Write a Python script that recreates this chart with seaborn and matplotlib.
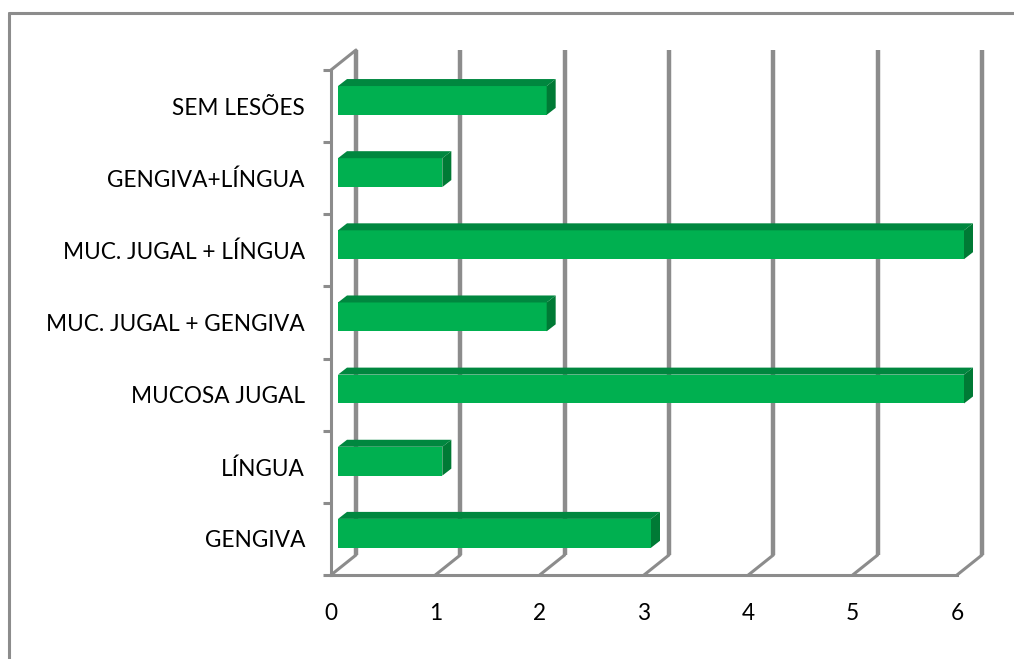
import matplotlib
matplotlib.use('Agg')
import matplotlib.pyplot as plt
import seaborn as sns
import pandas as pd
import numpy as np
from matplotlib.transforms import ScaledTranslation, IdentityTransform
from matplotlib.patches import Polygon
from matplotlib.lines import Line2D

categories = ["SEM LESÕES", "GENGIVA+LÍNGUA", "MUC. JUGAL + LÍNGUA",
              "MUC. JUGAL + GENGIVA", "MUCOSA JUGAL", "LÍNGUA", "GENGIVA"]
values = [2, 1, 6, 2, 6, 1, 3]
x_ticks = [0, 1, 2, 3, 4, 5, 6]

sns.set_theme(style='white')
plt.rcParams['font.family'] = ['Lato', 'DejaVu Sans']

W, H = 1014, 659
DPI = 100
GRAY = '#8C8C8C'
FRONT = '#00B050'
TOP = '#00873F'
SIDE = '#007A35'
FS = 16.3

fig = plt.figure(figsize=(W / DPI, H / DPI), dpi=DPI)
fig.patch.set_facecolor('white')
ax = fig.add_axes([331 / W, 1 - 575 / H, (957 - 331) / W, (575 - 70) / H])
ax.set_facecolor('none')

df = pd.DataFrame({'cat': categories, 'val': values})
sns.barplot(data=df, x='val', y='cat', orient='h', color=FRONT, width=0.4,
            saturation=1, ax=ax, zorder=3, edgecolor='none')
ax.set_xlim(0, 6)
ax.set_ylim(6.5, -0.5)
ax.set_xlabel('')
ax.set_ylabel('')

def off(dx, dy):
    return ax.transData + ScaledTranslation(dx / DPI, dy / DPI, fig.dpi_scale_trans)

# depth of the 3D box (px)
DX, DY = 25, 20
# bar front offset and bar depth (px)
BX, BY = 7, 5.6
BDX, BDY = 9, 7

# back wall gridlines
for x in x_ticks:
    ax.plot([x, x], [6.5, -0.5], transform=off(DX, DY), color=GRAY, lw=3.2,
            clip_on=False, zorder=1, solid_capstyle='butt')

# floor diagonals
for x in x_ticks:
    p = ax.transData.transform((x, 6.5))
    ax.add_line(Line2D([p[0], p[0] + DX], [p[1], p[1] + DY], transform=IdentityTransform(),
                       color=GRAY, lw=2.2, clip_on=False, zorder=1))
# left wall top diagonal
p = ax.transData.transform((0, -0.5))
ax.add_line(Line2D([p[0], p[0] + DX], [p[1], p[1] + DY], transform=IdentityTransform(),
                   color=GRAY, lw=2.2, clip_on=False, zorder=1))

# bars: shift front face and add top / side faces
for patch in list(ax.patches):
    x0, y0 = patch.get_x(), patch.get_y()
    w, h = patch.get_width(), patch.get_height()
    patch.set_transform(off(BX, BY))
    patch.set_clip_on(False)
    a = ax.transData.transform((x0, y0))
    b = ax.transData.transform((x0 + w, y0 + h))
    L, R = min(a[0], b[0]) + BX, max(a[0], b[0]) + BX
    T, B = max(a[1], b[1]) + BY, min(a[1], b[1]) + BY
    top = Polygon([(L, T), (R, T), (R + BDX, T + BDY), (L + BDX, T + BDY)], closed=True,
                  transform=IdentityTransform(), facecolor=TOP, edgecolor='none',
                  clip_on=False, zorder=3)
    side = Polygon([(R, B), (R, T), (R + BDX, T + BDY), (R + BDX, B + BDY)], closed=True,
                   transform=IdentityTransform(), facecolor=SIDE, edgecolor='none',
                   clip_on=False, zorder=3)
    ax.add_patch(top)
    ax.add_patch(side)

# spines
for s in ['top', 'right']:
    ax.spines[s].set_visible(False)
for s in ['left', 'bottom']:
    ax.spines[s].set_color(GRAY)
    ax.spines[s].set_linewidth(2.2)
    ax.spines[s].set_zorder(2)

# ticks
ax.set_xticks(x_ticks)
ax.set_xticklabels([str(t) for t in x_ticks])
ax.tick_params(axis='x', which='major', direction='out', length=7, width=2.2,
               color=GRAY, labelsize=FS, labelcolor='black', pad=13)
ax.set_yticks(np.arange(len(categories)))
ax.set_yticklabels(categories)
ax.set_yticks(np.arange(-0.5, len(categories), 1), minor=True)
ax.tick_params(axis='y', which='major', length=0, labelsize=FS, labelcolor='black', pad=26 * 0.72)
ax.tick_params(axis='y', which='minor', direction='out', length=6, width=2.2, color=GRAY, left=True)

# outer chart border (top and left edges visible)
fig.add_artist(Line2D([8.5 / W, 1.0], [1 - 12.5 / H, 1 - 12.5 / H], transform=fig.transFigure,
                      color=GRAY, lw=2.2))
fig.add_artist(Line2D([8.5 / W, 8.5 / W], [0.0, 1 - 12.5 / H], transform=fig.transFigure,
                      color=GRAY, lw=2.2))

fig.savefig('out.png', dpi=DPI, facecolor='white')
